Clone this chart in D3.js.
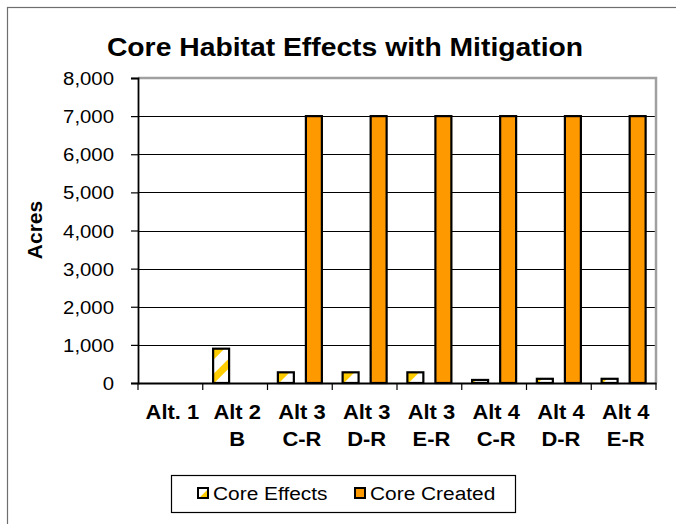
<!DOCTYPE html>
<html><head><meta charset="utf-8">
<script src="https://cdn.jsdelivr.net/npm/d3@7"></script>
<style>body{margin:0;background:#fff}svg{display:block;font-family:"Liberation Sans",Arial,sans-serif}</style>
</head><body><svg id="c" width="676" height="524"></svg>
<script>
const categories = [["Alt. 1"],["Alt 2","B"],["Alt 3","C-R"],["Alt 3","D-R"],["Alt 3","E-R"],["Alt 4","C-R"],["Alt 4","D-R"],["Alt 4","E-R"]];
const seriesNames = ["Core Effects","Core Created"];
const coreEffects = [0, 900, 280, 280, 280, 80, 110, 110];
const coreCreated = [0, 0, 7000, 7000, 7000, 7000, 7000, 7000];
const yTicks = [0,1000,2000,3000,4000,5000,6000,7000,8000];
const title = "Core Habitat Effects with Mitigation";
const yTitle = "Acres";

const svg = d3.select("#c");
const L=138, R=656, T=78, B=383;

const defs = svg.append("defs");
const pat = defs.append("pattern").attr("id","hatch").attr("patternUnits","userSpaceOnUse")
  .attr("width",17).attr("height",17).attr("patternTransform","rotate(45)");
pat.append("rect").attr("width",17).attr("height",17).attr("fill","#fff");
pat.append("rect").attr("width",7).attr("height",17).attr("fill","#FFCC00");

svg.append("rect").attr("x",7.5).attr("y",7.5).attr("width",720).attr("height",600)
  .attr("fill","none").attr("stroke","#6e6e6e").attr("stroke-width",1.2);

function stext(x,y,str,opts){
  const g = svg.append("g").attr("transform",`translate(${x},${y}) scale(${opts.sx||1.1},1)`);
  return g.append("text").attr("text-anchor",opts.anchor||"middle").attr("font-size",opts.size)
    .attr("font-weight",opts.weight||"normal").attr("fill","#000").text(str);
}

const labels = categories.map(c=>c.join(" "));
const x0 = d3.scaleBand().domain(labels).range([L,R]).paddingInner(0).paddingOuter(0);
const x1 = d3.scaleBand().domain(seriesNames).range([0,x0.bandwidth()]).paddingInner(0.43).paddingOuter(0.37);
const y = d3.scaleLinear().domain([0,8000]).range([B,T]);

// gridlines
svg.append("g").selectAll("line").data(yTicks.filter(v=>v>0&&v<8000)).join("line")
  .attr("x1",L).attr("x2",R).attr("y1",d=>Math.round(y(d))+0.5).attr("y2",d=>Math.round(y(d))+0.5)
  .attr("stroke","#000").attr("stroke-width",1);
// plot border top/right
svg.append("path").attr("d",`M${L},${T} H${R} V${B}`).attr("fill","none").attr("stroke","#a0a0a0").attr("stroke-width",2.5);

// bars
const data = labels.map((l,i)=>({l, vals:[coreEffects[i], coreCreated[i]]}));
const groups = svg.append("g").selectAll("g").data(data).join("g").attr("transform",d=>`translate(${x0(d.l)},0)`);
groups.selectAll("rect").data(d=>d.vals.map((v,j)=>({v,s:seriesNames[j]}))).join("rect")
  .filter(d=>d.v>0)
  .attr("x",d=>x1(d.s)).attr("width",x1.bandwidth())
  .attr("y",d=>y(d.v)).attr("height",d=>y(0)-y(d.v))
  .attr("fill",d=>d.s==="Core Effects"?"url(#hatch)":"#FF9900")
  .attr("stroke","#000").attr("stroke-width",2.2);

// y axis
const ya = svg.append("g").attr("transform",`translate(${L},0)`)
  .call(d3.axisLeft(y).tickValues(yTicks).tickSize(7).tickFormat(d3.format(",")));
ya.select(".domain").attr("stroke","#000").attr("stroke-width",1.8);
ya.selectAll(".tick line").attr("stroke","#000").attr("stroke-width",1.2);
ya.selectAll(".tick text").remove();
yTicks.forEach(v=>{ stext(L-24,y(v)+7,d3.format(",")(v),{anchor:"end",size:18.5,sx:1.1}); });

// x axis
const xa = svg.append("g").attr("transform",`translate(0,${B})`)
  .call(d3.axisBottom(x0).tickSize(0).tickFormat(""));
xa.select(".domain").attr("stroke","#000").attr("stroke-width",1.8);
const bounds = labels.map(l=>x0(l)).concat([R]);
svg.append("g").selectAll("line").data(bounds).join("line")
  .attr("x1",d=>d).attr("x2",d=>d).attr("y1",B).attr("y2",B+7).attr("stroke","#000").attr("stroke-width",1.2);
categories.forEach((c,i)=>{
  const cx = x0(labels[i]) + x0.bandwidth()/2 + 2;
  c.forEach((line,k)=>{ stext(cx, 419 + k*27, line, {size:20.5, weight:"bold", sx:1.07}); });
});

// title
stext(345, 56, title, {size:25.5, weight:"bold", sx:1.11});
// y title
svg.append("text").attr("transform","translate(42,230) rotate(-90)").attr("text-anchor","middle")
  .attr("font-size",21).attr("font-weight","bold").text(yTitle);

// legend
svg.append("rect").attr("x",171.5).attr("y",475.5).attr("width",344).attr("height",37)
  .attr("fill","#fff").attr("stroke","#000").attr("stroke-width",1.2);
const legX = [197, 354];
seriesNames.forEach((s,i)=>{
  svg.append("rect").attr("x",legX[i]+1).attr("y",488).attr("width",10).attr("height",10)
    .attr("fill",i===0?"url(#hatch)":"#FF9900").attr("stroke","#000").attr("stroke-width",2);
  stext(legX[i]+16, 500, s, {anchor:"start", size:18, sx:1.16});
});
</script></body></html>
